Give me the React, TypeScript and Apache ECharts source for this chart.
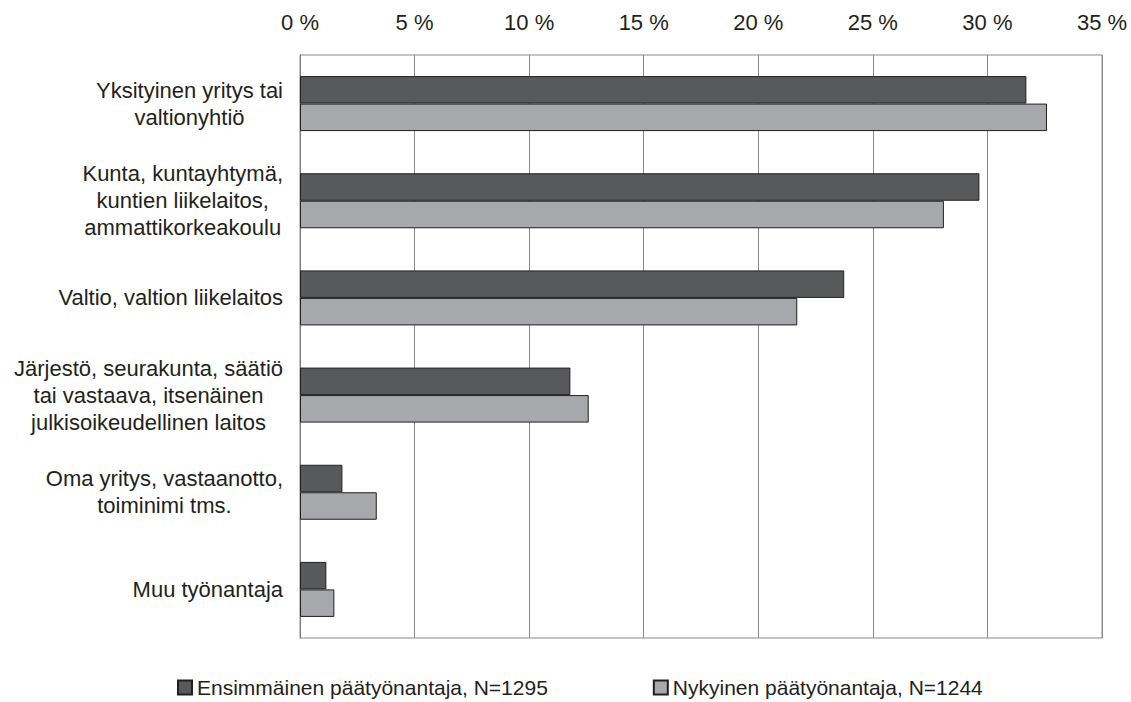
import React, { useEffect, useRef } from "react";
import * as echarts from "echarts";

const categories = [
  "Yksityinen yritys tai\nvaltionyhtiö",
  "Kunta, kuntayhtymä,\nkuntien liikelaitos,\nammattikorkeakoulu",
  "Valtio, valtion liikelaitos",
  "Järjestö, seurakunta, säätiö\ntai vastaava, itsenäinen\njulkisoikeudellinen laitos",
  "Oma yritys, vastaanotto,\ntoiminimi tms.",
  "Muu työnantaja",
];
const seriesNames = ["Ensimmäinen päätyönantaja, N=1295", "Nykyinen päätyönantaja, N=1244"];
const firstEmployer = [31.7, 29.65, 23.75, 11.8, 1.85, 1.15];
const currentEmployer = [32.6, 28.1, 21.7, 12.6, 3.35, 1.5];
const xTicks = [0, 5, 10, 15, 20, 25, 30, 35];

const FONT = "'Liberation Sans', Arial, sans-serif";
const TEXT = "#231f20";

export default function App() {
  const ref = useRef<HTMLDivElement>(null);
  useEffect(() => {
    if (!ref.current) return;
    const chart = echarts.init(ref.current, undefined, { renderer: "svg" });
    chart.setOption({
      animation: false,
      backgroundColor: "#ffffff",
      textStyle: { fontFamily: FONT, color: TEXT },
      grid: {
        left: 300,
        right: 29,
        top: 55,
        bottom: 64,
        show: true,
        borderColor: "#8a8a8a",
        borderWidth: 1,
        containLabel: false,
      },
      legend: {
        left: 172,
        top: 672,
        icon: "rect",
        itemWidth: 14,
        itemHeight: 14,
        itemGap: 105,
        textStyle: { fontSize: 21, color: TEXT, fontFamily: FONT },
        data: seriesNames,
      },
      xAxis: {
        type: "value",
        position: "top",
        min: xTicks[0],
        max: xTicks[xTicks.length - 1],
        interval: 5,
        axisLine: { show: false },
        axisTick: { show: false },
        axisLabel: {
          margin: 22,
          fontSize: 22,
          color: TEXT,
          fontFamily: FONT,
          formatter: (v: number) => `${v} %`,
        },
        splitLine: { show: true, lineStyle: { color: "#8a8a8a", width: 1 } },
      },
      yAxis: {
        type: "category",
        inverse: true,
        data: categories,
        axisLine: { show: true, lineStyle: { color: "#7a7a7a", width: 1 } },
        axisTick: { show: false },
        axisLabel: {
          margin: 17,
          formatter: (v: string) =>
            v
              .split("\n")
              .map((l) => `{c|${l}}`)
              .join("\n"),
          rich: {
            c: {
              align: "center",
              fontSize: 22,
              lineHeight: 27,
              color: TEXT,
              fontFamily: FONT,
            },
          },
        },
      },
      series: [
        {
          name: seriesNames[0],
          type: "bar",
          data: firstEmployer,
          barWidth: 27.5,
          barGap: "0%",
          itemStyle: { color: "#58595b", borderColor: "#231f20", borderWidth: 1 },
        },
        {
          name: seriesNames[1],
          type: "bar",
          data: currentEmployer,
          barWidth: 27.5,
          barGap: "0%",
          itemStyle: { color: "#a6a8ab", borderColor: "#231f20", borderWidth: 1 },
        },
      ],
    });
    return () => chart.dispose();
  }, []);
  return (
    <div
      ref={ref}
      style={{ position: "fixed", left: 0, top: 0, width: 1131, height: 702 }}
    />
  );
}
